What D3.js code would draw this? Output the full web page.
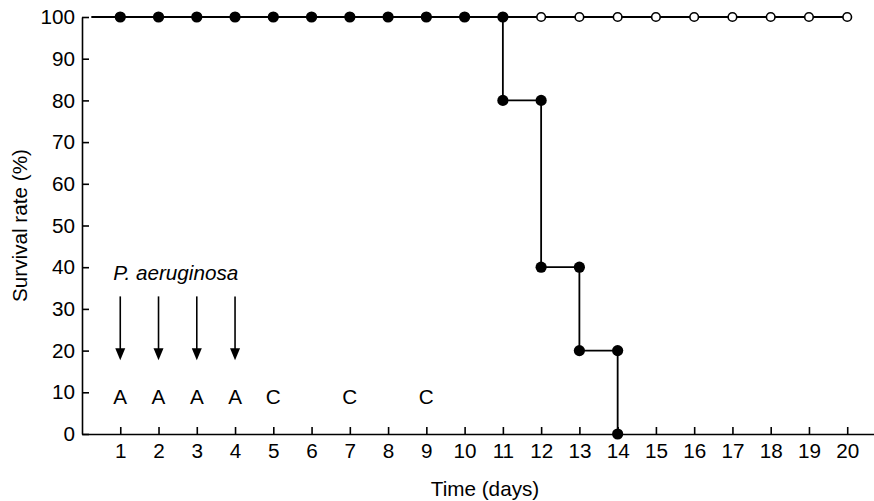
<!DOCTYPE html>
<html>
<head>
<meta charset="utf-8">
<script src="https://cdn.jsdelivr.net/npm/d3@7"></script>
<style>
  body { margin: 0; background: #fff; }
  svg text { font-family: "Liberation Sans", Arial, sans-serif; fill: #000; }
</style>
</head>
<body>
<svg id="chart" width="874" height="501"></svg>
<script>
// data
const dayTicks = d3.range(1, 21);
const rateTicks = [0, 10, 20, 30, 40, 50, 60, 70, 80, 90, 100];

// control group: everyone survives
const controlDays = [1, 2, 3, 4, 5, 6, 7, 8, 9, 10, 11, 12, 13, 14, 15, 16, 17, 18, 19, 20];
const controlRate = [100, 100, 100, 100, 100, 100, 100, 100, 100, 100, 100, 100, 100, 100, 100, 100, 100, 100, 100, 100];

// infected group: step points (pairs at each drop)
const infectedDays = [1, 2, 3, 4, 5, 6, 7, 8, 9, 10, 11, 11, 12, 12, 13, 13, 14, 14];
const infectedRate = [100, 100, 100, 100, 100, 100, 100, 100, 100, 100, 100, 80, 80, 40, 40, 20, 20, 0];

const lineStart = 0.25;   // curves start just right of the y axis

// treatment marks
const infectionDays = [1, 2, 3, 4];
const treatDays = [1, 2, 3, 4, 5, 7, 9];
const treatLabels = ['A', 'A', 'A', 'A', 'C', 'C', 'C'];
const pathogenLabel = 'P. aeruginosa';

/* layout */
const W = 874, H = 501;
const margin = { left: 82, right: 0, top: 17, bottom: 67 };
const fontSize = 20.7;

const svg = d3.select('#chart');

const x = d3.scaleLinear().domain([0, 20.7]).range([margin.left, W - margin.right]);
const y = d3.scaleLinear().domain([0, 100]).range([H - margin.bottom, margin.top]);

// axes
const xAxis = svg.append('g')
  .attr('transform', 'translate(0,' + y(0) + ')')
  .call(d3.axisBottom(x).tickValues(dayTicks).tickSizeInner(-7).tickSizeOuter(0).tickPadding(9));

const yAxis = svg.append('g')
  .attr('transform', 'translate(' + x(0) + ',0)')
  .call(d3.axisLeft(y).tickValues(rateTicks).tickSizeInner(-7).tickSizeOuter(0).tickPadding(7));

[xAxis, yAxis].forEach(g => {
  g.select('.domain').attr('stroke', '#000').attr('stroke-width', 1.6);
  g.selectAll('.tick line').attr('stroke', '#000').attr('stroke-width', 1.6);
  g.selectAll('.tick text')
    .attr('font-size', fontSize)
    .attr('font-family', '"Liberation Sans", Arial, sans-serif')
    .attr('fill', '#000');
});

// axis titles
svg.append('text')
  .attr('x', 485)
  .attr('y', H - 5)
  .attr('text-anchor', 'middle')
  .attr('font-size', fontSize)
  .text('Time (days)');

svg.append('text')
  .attr('transform', 'translate(27,' + (y(0) + y(100)) / 2 + ') rotate(-90)')
  .attr('text-anchor', 'middle')
  .attr('font-size', fontSize)
  .text('Survival rate (%)');

// lines
const line = d3.line().x(d => x(d[0])).y(d => y(d[1]));

const controlPts = [[lineStart, 100]].concat(controlDays.map((d, i) => [d, controlRate[i]]));
const infectedPts = [[lineStart, 100]].concat(infectedDays.map((d, i) => [d, infectedRate[i]]));

svg.append('path')
  .datum(controlPts)
  .attr('d', line)
  .attr('fill', 'none')
  .attr('stroke', '#000')
  .attr('stroke-width', 1.8);

svg.append('path')
  .datum(infectedPts)
  .attr('d', line)
  .attr('fill', 'none')
  .attr('stroke', '#000')
  .attr('stroke-width', 1.8);

// markers
svg.append('g').selectAll('circle')
  .data(controlPts.slice(1))
  .enter().append('circle')
    .attr('cx', d => x(d[0]))
    .attr('cy', d => y(d[1]))
    .attr('r', 4.3)
    .attr('fill', '#fff')
    .attr('stroke', '#000')
    .attr('stroke-width', 1.6);

svg.append('g').selectAll('circle')
  .data(infectedPts.slice(1))
  .enter().append('circle')
    .attr('cx', d => x(d[0]))
    .attr('cy', d => y(d[1]))
    .attr('r', 5.6)
    .attr('fill', '#000');

// infection arrows
const arrowTop = 33, arrowTip = 17.7;
const arrows = svg.append('g');
infectionDays.forEach(d => {
  const cx = x(d);
  arrows.append('line')
    .attr('x1', cx).attr('x2', cx)
    .attr('y1', y(arrowTop)).attr('y2', y(arrowTip) - 10)
    .attr('stroke', '#000').attr('stroke-width', 1.6);
  arrows.append('path')
    .attr('d', 'M' + (cx - 5) + ',' + (y(arrowTip) - 12) + 'L' + (cx + 5) + ',' + (y(arrowTip) - 12) + 'L' + cx + ',' + y(arrowTip) + 'Z')
    .attr('fill', '#000');
});

svg.append('text')
  .attr('x', x(1) - 7)
  .attr('y', y(37))
  .attr('font-size', fontSize)
  .attr('font-style', 'italic')
  .text(pathogenLabel);

// treatment letters
svg.append('g').selectAll('text')
  .data(treatDays)
  .enter().append('text')
    .attr('x', d => x(d))
    .attr('y', y(9))
    .attr('dy', '0.35em')
    .attr('text-anchor', 'middle')
    .attr('font-size', fontSize)
    .text((d, i) => treatLabels[i]);
</script>
</body>
</html>
